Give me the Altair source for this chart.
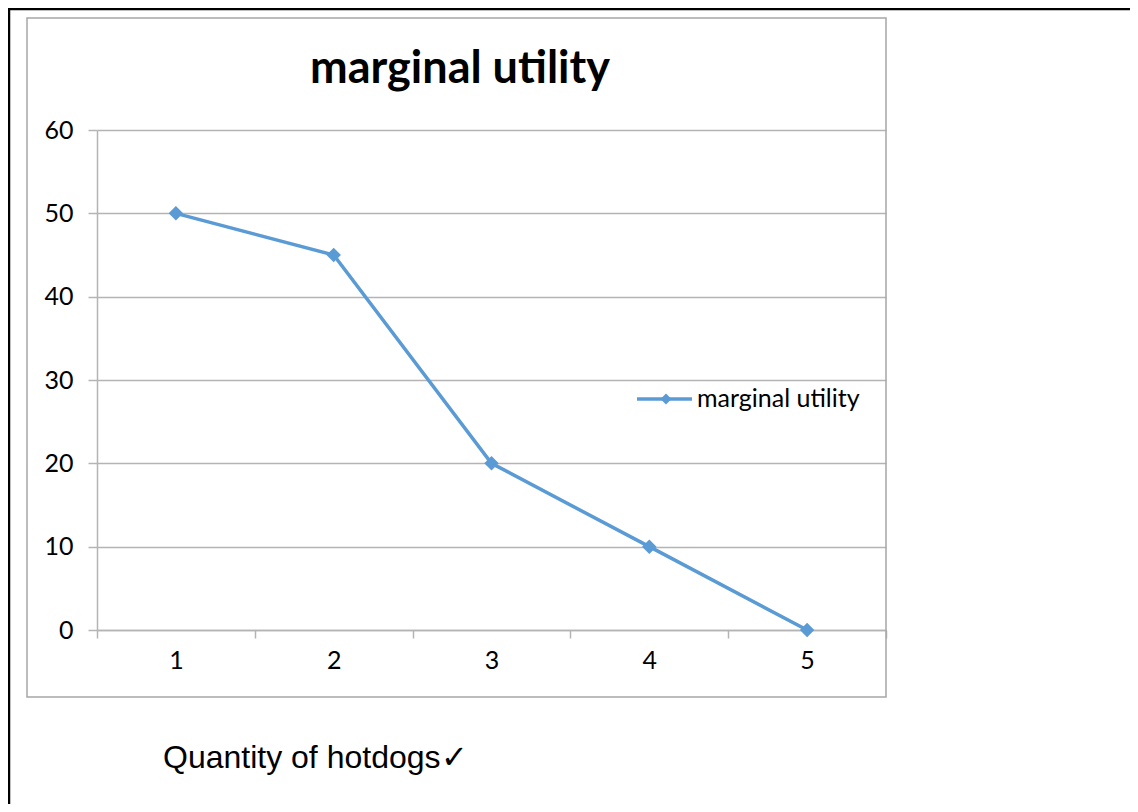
import altair as alt
import pandas as pd

quantity = ["1", "2", "3", "4", "5"]
utility = [50, 45, 20, 10, 0]
series_name = "marginal utility"
chart_title = "marginal utility"
footer_text = "Quantity of hotdogs\u2713"

BLUE = "#5B9BD5"
GRID = "#b4b4b4"
FONT = "Lato"

df = pd.DataFrame({"q": quantity, "u": utility})
one = alt.Data(values=[{"a": 1}])

x_enc = alt.X(
    "q:O",
    sort=quantity,
    scale=alt.Scale(type="band", paddingInner=0, paddingOuter=0),
    axis=alt.Axis(
        title=None, labelAngle=0, tickBand="extent", domainColor=GRID,
        tickColor=GRID, tickSize=8, tickWidth=1.5, domainWidth=1.5,
        labelFont=FONT, labelFontSize=25, labelColor="#000000", labelPadding=10,
    ),
)
y_enc = alt.Y(
    "u:Q",
    scale=alt.Scale(domain=[0, 60], nice=False),
    axis=alt.Axis(
        title=None, values=[0, 10, 20, 30, 40, 50, 60], grid=True, gridColor=GRID,
        gridWidth=1.5, domainColor=GRID, domainWidth=1.5, tickColor=GRID,
        tickSize=9, tickWidth=1.5, labelFont=FONT, labelFontSize=25,
        labelColor="#000000", labelPadding=15,
    ),
)

line = alt.Chart(df).mark_line(color=BLUE, strokeWidth=3.5).encode(x=x_enc, y=y_enc)
pts = alt.Chart(df).mark_point(shape="diamond", filled=True, color=BLUE, size=210, opacity=1).encode(x=x_enc, y=y_enc)

# outer frame (black) and chart area frame (gray)
inner_box = alt.Chart(one).mark_rect(fillOpacity=0, stroke="#a6a6a6", strokeWidth=1.5).encode(
    x=alt.value(-70), x2=alt.value(789), y=alt.value(-112), y2=alt.value(567))
outer_left = alt.Chart(one).mark_rule(color="#000000", strokeWidth=2.5).encode(
    x=alt.value(-88), y=alt.value(-122), y2=alt.value(690))
outer_top = alt.Chart(one).mark_rule(color="#000000", strokeWidth=2.5).encode(
    x=alt.value(-89), x2=alt.value(1040), y=alt.value(-121))

title = alt.Chart(one).mark_text(
    text=chart_title, font=FONT, fontSize=45, fontWeight="bold", color="#000000",
    align="center", baseline="alphabetic").encode(x=alt.value(363), y=alt.value(-47))

leg_line = alt.Chart(one).mark_rule(color=BLUE, strokeWidth=3.5).encode(
    x=alt.value(540), x2=alt.value(595), y=alt.value(269))
leg_pt = alt.Chart(one).mark_point(shape="diamond", filled=True, color=BLUE, size=120, opacity=1).encode(
    x=alt.value(569), y=alt.value(269))
leg_text = alt.Chart(one).mark_text(
    text=series_name, font=FONT, fontSize=25, color="#000000", align="left",
    baseline="alphabetic").encode(x=alt.value(600), y=alt.value(277))

footer = alt.Chart(one).mark_text(
    text=footer_text, font="Liberation Sans", fontSize=32, color="#000000",
    align="left", baseline="alphabetic").encode(x=alt.value(66), y=alt.value(638))

chart = alt.layer(
    inner_box, outer_left, outer_top, line, pts, title, leg_line, leg_pt, leg_text, footer
).properties(
    width=789, height=500,
    autosize=alt.AutoSizeParams(type="none"),
    padding={"left": 89, "top": 122, "right": 244, "bottom": 174},
    background="#ffffff",
).configure_view(strokeOpacity=0)

chart.save("out.html", embed_options={"renderer": "svg", "actions": False})
